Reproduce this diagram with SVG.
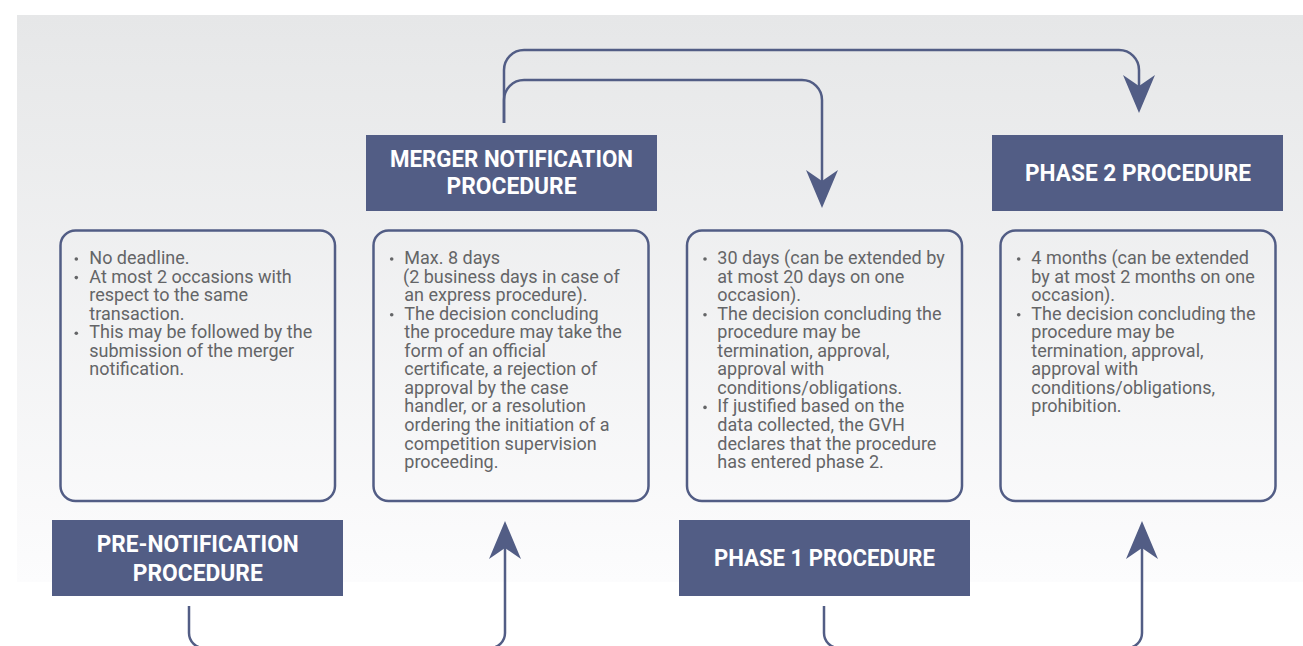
<svg xmlns="http://www.w3.org/2000/svg" width="1303" height="646" viewBox="0 0 1303 646">
  <defs>
    <linearGradient id="bg" x1="0" y1="0" x2="0" y2="1">
      <stop offset="0" stop-color="#e6e7e8"/>
      <stop offset="1" stop-color="#fcfcfd"/>
    </linearGradient>
    <marker id="arrow" viewBox="0 0 40 34" refX="11" refY="17" markerWidth="40" markerHeight="34" markerUnits="userSpaceOnUse" orient="auto">
      <path d="M38,17 L0,1 L11,17 L0,33 Z" fill="#525d85"/>
    </marker>
  </defs>
  <style>
    .hdr { fill: #525d85; }
    .hdr-t { font-family: Roboto, "Liberation Sans", sans-serif; font-weight: 700; font-size: 24px; fill: #ffffff; text-anchor: middle; }
    .box { fill: none; stroke: #525d85; stroke-width: 2.5; }
    .body { font-family: Roboto, "Liberation Sans", sans-serif; font-size: 18px; fill: #646567; }
    .bul { fill: #646567; }
    .conn { fill: none; stroke: #525d85; stroke-width: 2.5; marker-end: url(#arrow); }
  </style>

  <rect x="17" y="15" width="1286" height="567" fill="url(#bg)"/>

  <g id="connectors">
    <path class="conn" d="M504,123 V100 A20,20 0 0 1 524,80 H802 A20,20 0 0 1 822,100 V181"/>
    <path class="conn" d="M504,123 V70 A20,20 0 0 1 524,50 H1119 A20,20 0 0 1 1139,70 V86"/>
    <path class="conn" d="M189,606 V633 A15,15 0 0 0 204,648 H490 A15,15 0 0 0 505,633 V548"/>
    <path class="conn" d="M824,606 V633 A15,15 0 0 0 839,648 H1127 A15,15 0 0 0 1142,633 V548"/>
  </g>

  <g id="merger-header">
    <rect class="hdr" x="366" y="135" width="291" height="76"/>
    <text class="hdr-t" x="511.5" y="167" textLength="243" lengthAdjust="spacingAndGlyphs">MERGER NOTIFICATION</text>
    <text class="hdr-t" x="511.5" y="194.3" textLength="130" lengthAdjust="spacingAndGlyphs">PROCEDURE</text>
  </g>

  <g id="phase2-header">
    <rect class="hdr" x="992" y="135" width="291" height="76"/>
    <text class="hdr-t" x="1138" y="181" textLength="226" lengthAdjust="spacingAndGlyphs">PHASE 2 PROCEDURE</text>
  </g>

  <g id="pre-header">
    <rect class="hdr" x="52" y="520" width="291" height="76"/>
    <text class="hdr-t" x="197.8" y="552.3" textLength="202" lengthAdjust="spacingAndGlyphs">PRE-NOTIFICATION</text>
    <text class="hdr-t" x="197.8" y="581" textLength="130" lengthAdjust="spacingAndGlyphs">PROCEDURE</text>
  </g>

  <g id="phase1-header">
    <rect class="hdr" x="679" y="520" width="291" height="76"/>
    <text class="hdr-t" x="824.5" y="565.7" textLength="221" lengthAdjust="spacingAndGlyphs">PHASE 1 PROCEDURE</text>
  </g>

  <g id="pre-box">
    <rect class="box" x="60.5" y="230.5" width="274.5" height="270.5" rx="15"/>
    <circle class="bul" cx="76.3" cy="259" r="1.8"/>
    <circle class="bul" cx="76.3" cy="277.6" r="1.8"/>
    <circle class="bul" cx="76.3" cy="333.2" r="1.8"/>
    <text class="body" x="89.3" y="264">No deadline.</text>
    <text class="body" x="89.3" y="282.6">At most 2 occasions with</text>
    <text class="body" x="89.3" y="301.1">respect to the same</text>
    <text class="body" x="89.3" y="319.7">transaction.</text>
    <text class="body" x="89.3" y="338.2">This may be followed by the</text>
    <text class="body" x="89.3" y="356.8">submission of the merger</text>
    <text class="body" x="89.3" y="375.3">notification.</text>
  </g>

  <g id="merger-box">
    <rect class="box" x="373.5" y="230.5" width="275" height="270.5" rx="15"/>
    <circle class="bul" cx="391.7" cy="259" r="1.8"/>
    <circle class="bul" cx="391.7" cy="314.7" r="1.8"/>
    <text class="body" x="404.3" y="264">Max. 8 days</text>
    <text class="body" x="403" y="282.6">(2 business days in case of</text>
    <text class="body" x="404.3" y="301.1">an express procedure).</text>
    <text class="body" x="404.3" y="319.7">The decision concluding</text>
    <text class="body" x="404.3" y="338.2">the procedure may take the</text>
    <text class="body" x="404.3" y="356.8">form of an official</text>
    <text class="body" x="404.3" y="375.3">certificate, a rejection of</text>
    <text class="body" x="404.3" y="393.9">approval by the case</text>
    <text class="body" x="404.3" y="412.4">handler, or a resolution</text>
    <text class="body" x="404.3" y="431">ordering the initiation of a</text>
    <text class="body" x="404.3" y="449.5">competition supervision</text>
    <text class="body" x="404.3" y="468.1">proceeding.</text>
  </g>

  <g id="phase1-box">
    <rect class="box" x="687" y="230.5" width="275" height="270.5" rx="15"/>
    <circle class="bul" cx="705" cy="259" r="1.8"/>
    <circle class="bul" cx="705" cy="314.7" r="1.8"/>
    <circle class="bul" cx="705" cy="407.4" r="1.8"/>
    <text class="body" x="717.3" y="264">30 days (can be extended by</text>
    <text class="body" x="717.3" y="282.6">at most 20 days on one</text>
    <text class="body" x="717.3" y="301.1">occasion).</text>
    <text class="body" x="717.3" y="319.7">The decision concluding the</text>
    <text class="body" x="717.3" y="338.2">procedure may be</text>
    <text class="body" x="717.3" y="356.8">termination, approval,</text>
    <text class="body" x="717.3" y="375.3">approval with</text>
    <text class="body" x="717.3" y="393.9">conditions/obligations.</text>
    <text class="body" x="717.3" y="412.4">If justified based on the</text>
    <text class="body" x="717.3" y="431">data collected, the GVH</text>
    <text class="body" x="717.3" y="449.5">declares that the procedure</text>
    <text class="body" x="717.3" y="468.1">has entered phase 2.</text>
  </g>

  <g id="phase2-box">
    <rect class="box" x="1000.5" y="230.5" width="275" height="270.5" rx="15"/>
    <circle class="bul" cx="1018.7" cy="259" r="1.8"/>
    <circle class="bul" cx="1018.7" cy="314.7" r="1.8"/>
    <text class="body" x="1031.3" y="264">4 months (can be extended</text>
    <text class="body" x="1031.3" y="282.6">by at most 2 months on one</text>
    <text class="body" x="1031.3" y="301.1">occasion).</text>
    <text class="body" x="1031.3" y="319.7">The decision concluding the</text>
    <text class="body" x="1031.3" y="338.2">procedure may be</text>
    <text class="body" x="1031.3" y="356.8">termination, approval,</text>
    <text class="body" x="1031.3" y="375.3">approval with</text>
    <text class="body" x="1031.3" y="393.9">conditions/obligations,</text>
    <text class="body" x="1031.3" y="412.4">prohibition.</text>
  </g>
</svg>
